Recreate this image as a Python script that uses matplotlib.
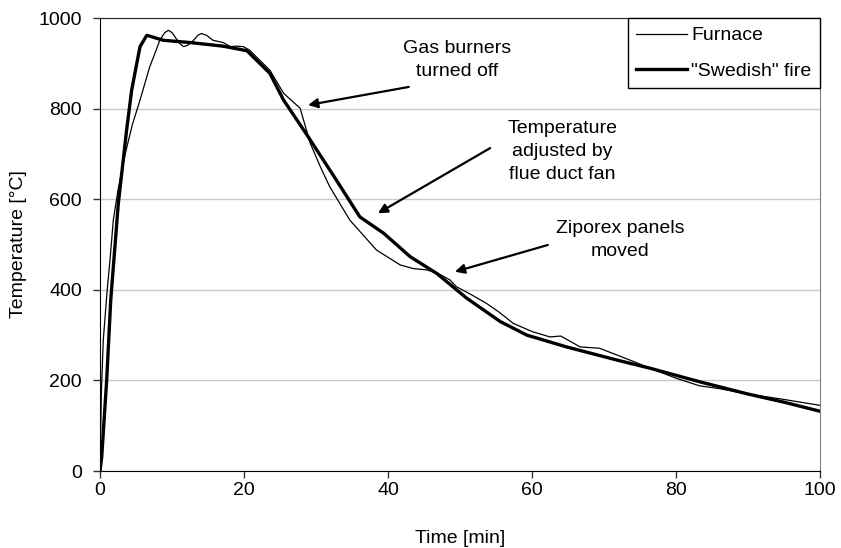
import numpy as np
import matplotlib.pyplot as plt

plt.rcParams['font.family'] = ['Liberation Sans', 'DejaVu Sans']
plt.rcParams['font.size'] = 14

# furnace gas temperature (thin line)
furnace_t = [0, 0.2, 0.46, 1.0, 1.39, 1.85, 2.5, 3.5, 4.5, 5.56, 6.9, 7.7, 8.3,
             9.0, 9.5, 10.0, 10.4, 11.0, 11.6, 12.2, 13.0, 13.6, 14.1, 14.8,
             15.7, 17.1, 18.1, 19.0, 19.9, 20.8, 22.0, 23.6, 25.5, 27.8, 29.2,
             30.6, 31.9, 34.7, 38.4, 41.7, 43.5, 45.4, 47.0, 48.6, 49.5, 51.5,
             53.7, 55.5, 57.4, 60.0, 62.5, 64.0, 66.7, 69.4, 71.5, 73.6, 76.4,
             80.0, 83.3, 86.0, 90.0, 95.0, 100.0]
furnace_T = [0, 180, 290, 400, 466, 554, 620, 700, 765, 819, 892, 925, 951,
             968, 973, 968, 959, 945, 937, 940, 951, 962, 966, 962,
             951, 946, 937, 938, 937, 929, 910, 885, 834, 801, 724,
             672, 628, 554, 488, 455, 447, 444, 436, 422, 407, 390,
             370, 350, 326, 308, 296, 298, 274, 271, 258, 245, 227,
             205, 188, 182, 170, 158, 145]

# standard "Swedish" fire curve (thick line)
swedish_t = [0, 0.24, 0.93, 1.49, 2.54, 3.7, 4.4, 5.56, 6.5, 8.8, 12.5, 17.1,
             20.4, 23.6, 25.5, 28.5, 32.4, 36.1, 39.4, 43.1, 46.8, 50.9, 55.6,
             59.3, 64.8, 71.8, 76.4, 83.3, 90.0, 95.0, 100.0]
swedish_T = [0, 31, 201, 377, 590, 753, 841, 937, 962, 951, 946, 938,
             928, 878, 819, 748, 653, 561, 525, 473, 436, 382, 330,
             300, 274, 245, 227, 197, 170, 152, 132]

# annotation texts, where they sit and what they point at
notes = ["Gas burners\nturned off",
         "Temperature\nadjusted by\nflue duct fan",
         "Ziporex panels\nmoved"]
note_text_xy = [(49.6, 952), (64.2, 775), (72.2, 554)]
note_arrow_tail = [(42.9, 848), (54.2, 713), (62.2, 499)]
note_arrow_head = [(28.9, 808), (38.6, 569), (49.3, 440)]

fig = plt.figure(figsize=(8.41, 5.48), dpi=100)
ax = fig.add_axes([0.1189, 0.1405, 0.856, 0.8265])

ax.plot(furnace_t, furnace_T, color='black', linewidth=0.9, label='Furnace')
ax.plot(swedish_t, swedish_T, color='black', linewidth=2.4, label='"Swedish" fire')

for txt, (tx, ty), tail, head in zip(notes, note_text_xy, note_arrow_tail, note_arrow_head):
    ax.text(tx, ty, txt, ha='center', va='top', linespacing=1.45)
    ax.annotate('', xy=head, xytext=tail,
                arrowprops=dict(arrowstyle='-|>', color='black', lw=1.6,
                                mutation_scale=14, shrinkA=0, shrinkB=0))

ax.set_xlim(0, 100)
ax.set_ylim(0, 1000)
ax.set_xticks(np.arange(0, 101, 20))
ax.set_yticks(np.arange(0, 1001, 200))
ax.yaxis.grid(True, color='#c8c8c8', linewidth=1)
ax.set_axisbelow(True)
ax.tick_params(direction='out', length=5, width=1, color='#333333')
ax.tick_params(axis='x', pad=3)
ax.tick_params(axis='y', pad=8)

ax.spines['left'].set_color('black')
ax.spines['bottom'].set_color('black')
ax.spines['top'].set_color('#222222')
ax.spines['right'].set_color('#808080')

ax.set_xlabel('Time [min]', labelpad=22)
ax.set_ylabel('Temperature [°C]', labelpad=8)

leg = ax.legend(loc='upper right', frameon=True, fancybox=False, framealpha=1,
                edgecolor='black', borderaxespad=0, handlelength=2.6,
                handletextpad=0.2, borderpad=0.45, labelspacing=0.9)
leg.get_frame().set_linewidth(1)

fig.savefig('out.png', dpi=100)
